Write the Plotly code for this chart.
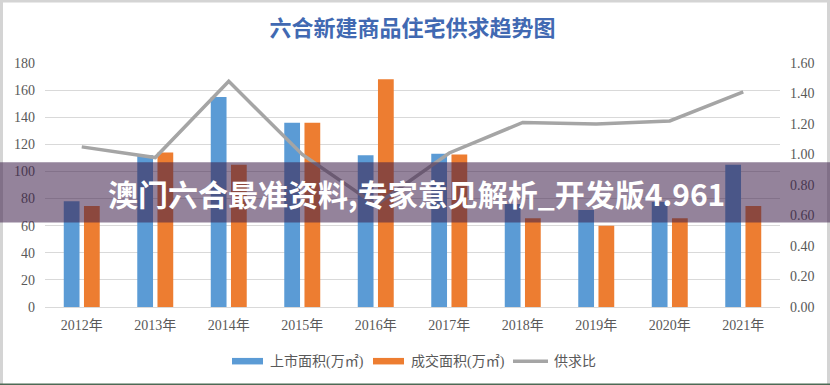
import plotly.graph_objects as go

# ---- data ----
years = ["2012年", "2013年", "2014年", "2015年", "2016年",
         "2017年", "2018年", "2019年", "2020年", "2021年"]
supply_area = [78, 112, 155, 136, 112, 113, 76, 71.5, 77.5, 105]      # 上市面积(万㎡)
sold_area = [74.5, 114, 105, 136, 168, 112.5, 65.5, 60, 65.5, 74.5]  # 成交面积(万㎡)
ratio = [1.05, 0.98, 1.48, 1.00, 0.67, 1.01, 1.21, 1.20, 1.22, 1.41]  # 供求比

left_ticks = [0, 20, 40, 60, 80, 100, 120, 140, 160, 180]
right_ticks = [0, 0.2, 0.4, 0.6, 0.8, 1.0, 1.2, 1.4, 1.6]

title_text = "六合新建商品住宅供求趋势图"
banner_text = "澳门六合最准资料,专家意见解析_开发版4.961"
legend_names = ["上市面积(万㎡)", "成交面积(万㎡)", "供求比"]

# ---- styling ----
W, H = 830, 385
L, R = 45, 780          # plot area left/right (px)
TOP, BOT = 63.3, 306.7  # plot area top/bottom (px)
BLUE, ORANGE, GREY = "#5B9BD5", "#ED7D31", "#A5A5A5"
TXT = "#595959"
FONT = "Liberation Serif, Noto Sans CJK SC"


def px(x):
    return (x - L) / (R - L)


def py(y):
    return (BOT - y) / (BOT - TOP)


fig = go.Figure()
fig.add_trace(go.Bar(x=years, y=supply_area, name=legend_names[0],
                     marker=dict(color=BLUE, line=dict(width=0)), yaxis="y"))
fig.add_trace(go.Bar(x=years, y=sold_area, name=legend_names[1],
                     marker=dict(color=ORANGE, line=dict(width=0)), yaxis="y"))
fig.add_trace(go.Scatter(x=years, y=ratio, name=legend_names[2], mode="lines",
                         line=dict(color=GREY, width=3.5), yaxis="y2"))

shapes = []
annotations = []

# manual legend
ly = 360.7
shapes.append(dict(type="rect", xref="paper", yref="paper",
                   x0=px(232), x1=px(263), y0=py(364), y1=py(357.5),
                   fillcolor=BLUE, line=dict(width=0)))
annotations.append(dict(text=legend_names[0], xref="paper", yref="paper",
                        x=px(268), y=py(ly), xanchor="left", yanchor="middle",
                        showarrow=False, font=dict(size=14, color=TXT, family=FONT)))
shapes.append(dict(type="rect", xref="paper", yref="paper",
                   x0=px(373), x1=px(404), y0=py(364), y1=py(357.5),
                   fillcolor=ORANGE, line=dict(width=0)))
annotations.append(dict(text=legend_names[1], xref="paper", yref="paper",
                        x=px(409), y=py(ly), xanchor="left", yanchor="middle",
                        showarrow=False, font=dict(size=14, color=TXT, family=FONT)))
shapes.append(dict(type="line", xref="paper", yref="paper",
                   x0=px(513), x1=px(548), y0=py(ly), y1=py(ly),
                   line=dict(color=GREY, width=3.5)))
annotations.append(dict(text=legend_names[2], xref="paper", yref="paper",
                        x=px(552), y=py(ly), xanchor="left", yanchor="middle",
                        showarrow=False, font=dict(size=14, color=TXT, family=FONT)))

# image frame
frame = "#D4D4D4"
shapes += [
    dict(type="rect", xref="paper", yref="paper", x0=px(0), x1=px(3), y0=py(H), y1=py(0),
         fillcolor=frame, line=dict(width=0), layer="above"),
    dict(type="rect", xref="paper", yref="paper", x0=px(0), x1=px(W), y0=py(3), y1=py(0),
         fillcolor=frame, line=dict(width=0), layer="above"),
    dict(type="rect", xref="paper", yref="paper", x0=px(827), x1=px(W), y0=py(H), y1=py(0),
         fillcolor=frame, line=dict(width=0), layer="above"),
    dict(type="rect", xref="paper", yref="paper", x0=px(0), x1=px(W), y0=py(H), y1=py(383),
         fillcolor="#4E6A55", line=dict(width=0), layer="above"),
]

# watermark banner
shapes.append(dict(type="rect", xref="paper", yref="paper",
                   x0=px(0), x1=px(W), y0=py(222.3), y1=py(162.3),
                   fillcolor="rgba(60,30,72,0.55)", line=dict(width=0), layer="above"))
annotations.append(dict(text="<b>" + banner_text + "</b>", xref="paper", yref="paper",
                        x=px(416), y=py(193), xanchor="center", yanchor="middle",
                        showarrow=False,
                        font=dict(size=30, color="white", family="Noto Sans CJK SC")))

fig.update_layout(
    width=W, height=H,
    margin=dict(l=L, r=W - R, t=TOP, b=H - BOT),
    paper_bgcolor="white", plot_bgcolor="white",
    showlegend=False,
    barmode="group", bargap=0.45, bargroupgap=0.22,
    title=dict(text=title_text, x=0.5, xanchor="center", xref="paper",
               y=1 - 28 / H, yanchor="middle",
               font=dict(size=22, color="#4169B2", family="Noto Sans CJK SC", weight="bold")),
    font=dict(family=FONT, color=TXT, size=14),
    xaxis=dict(showgrid=False, showline=False, zeroline=False, ticks="",
               tickfont=dict(size=14, color=TXT, family=FONT), ticklabelstandoff=8),
    yaxis=dict(range=[0, 180], tickvals=left_ticks, showgrid=True, gridcolor="#D9D9D9",
               gridwidth=1, zeroline=True, zerolinecolor="#D9D9D9", zerolinewidth=1,
               showline=False, ticks="", ticklabelstandoff=9,
               tickfont=dict(size=14, color=TXT, family=FONT)),
    yaxis2=dict(range=[0, 1.6], tickvals=right_ticks, tickformat=".2f", overlaying="y",
                side="right", showgrid=False, zeroline=False, showline=False, ticks="",
                ticklabelstandoff=9, tickfont=dict(size=14, color=TXT, family=FONT)),
    shapes=shapes, annotations=annotations,
)

fig.write_html("out.html", config={"displayModeBar": False},
               post_script="document.body.style.margin='0';document.body.style.overflow='hidden';")
